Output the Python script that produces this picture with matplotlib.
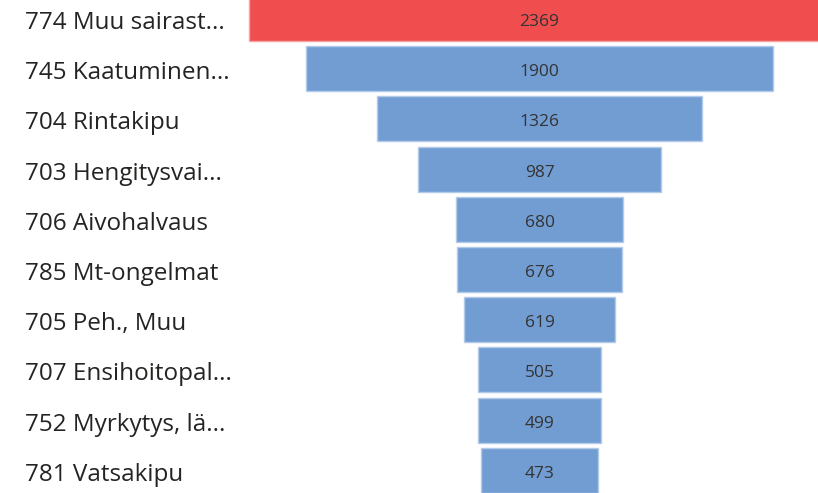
import matplotlib.pyplot as plt
from matplotlib.transforms import blended_transform_factory

labels = ['774 Muu sairast...', '745 Kaatuminen...', '704 Rintakipu', '703 Hengitysvai...',
          '706 Aivohalvaus', '785 Mt-ongelmat', '705 Peh., Muu', '707 Ensihoitopal...',
          '752 Myrkytys, lä...', '781 Vatsakipu']
values = [2369, 1900, 1326, 987, 680, 676, 619, 505, 499, 473]
colors = ['#f04e4e'] + ['#729dd3'] * 9
edges = ['#f7a3a3'] + ['#b3cbea'] * 9

plt.rcParams['font.family'] = ['Open Sans', 'DejaVu Sans']

fig = plt.figure(figsize=(8.18, 4.93), dpi=100)
ax = fig.add_axes([0, 0, 1, 1])

ys = list(range(len(values)))
lefts = [-v / 2 for v in values]
ax.barh(ys, values, left=lefts, height=0.9, color=colors, edgecolor=edges, linewidth=1)

for y, v in zip(ys, values):
    ax.text(0, y + 0.03, str(v), ha='center', va='center_baseline', fontsize=12.5,
            color='#333333')

trans = blended_transform_factory(ax.transAxes, ax.transData)
for y, lab in zip(ys, labels):
    ax.text(25 / 818, y + 0.03, lab, transform=trans, ha='left', va='center_baseline',
            fontsize=17.5, color='#252423')

# scale: 0.2453 px per unit, funnel centre at x=539.5 px
px = 0.2453
ax.set_xlim(-539.5 / px, (818 - 539.5) / px)
ax.set_ylim(9 + (493 - 470.3) / 50.2, -18.5 / 50.2)
ax.axis('off')

fig.savefig('out.png', dpi=100)
